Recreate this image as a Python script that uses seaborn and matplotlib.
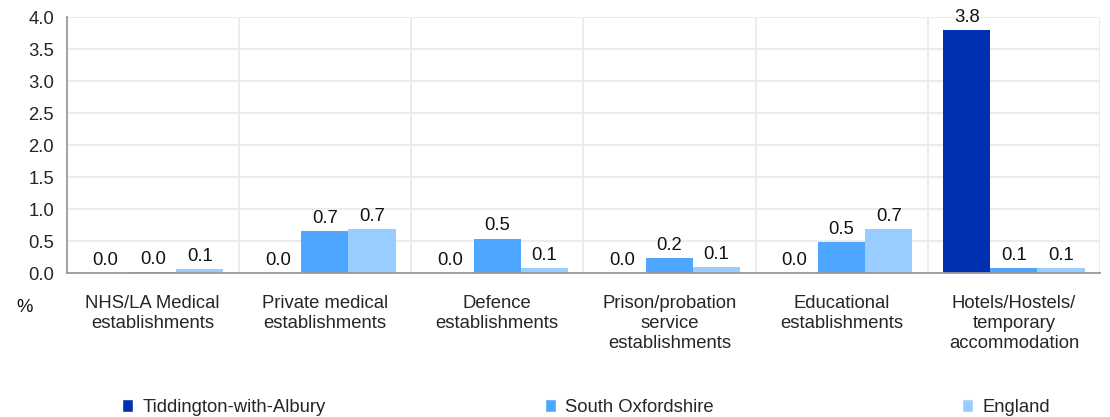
import numpy as np
import pandas as pd
import matplotlib
matplotlib.use("Agg")
import matplotlib.pyplot as plt
import seaborn as sns
from matplotlib.patches import Patch

# data
categories = [
    "NHS/LA Medical\nestablishments",
    "Private medical\nestablishments",
    "Defence\nestablishments",
    "Prison/probation\nservice\nestablishments",
    "Educational\nestablishments",
    "Hotels/Hostels/\ntemporary\naccommodation",
]
series = ["Tiddington-with-Albury", "South Oxfordshire", "England"]
tiddington = [0.0, 0.0, 0.0, 0.0, 0.0, 3.8]
south_oxon = [0.02, 0.66, 0.54, 0.24, 0.49, 0.08]
england = [0.06, 0.69, 0.08, 0.09, 0.69, 0.08]
colors = ["#0030B0", "#4DA6FF", "#99CCFF"]

df = pd.DataFrame({
    "category": categories * 3,
    "area": np.repeat(series, len(categories)),
    "value": tiddington + south_oxon + england,
})

FS = 13.3

sns.set_style("white")
plt.rcParams["font.family"] = ["Liberation Sans", "DejaVu Sans"]

fig = plt.figure(figsize=(11.1, 4.17), dpi=100)
ax = fig.add_axes([0.060, 0.345, 0.931, 0.614])

sns.barplot(data=df, x="category", y="value", hue="area", hue_order=series,
            palette=colors, width=0.82, gap=0, saturation=1, ax=ax,
            legend=False, errorbar=None, linewidth=0)

for cont in ax.containers:
    ax.bar_label(cont, fmt="%.1f", padding=3, fontsize=FS, color="#111111")

ax.set_ylim(0, 4.0)
ax.set_xlim(-0.5, len(categories) - 0.5)
ax.set_yticks(np.arange(0, 4.01, 0.5))
ax.set_yticklabels([f"{v:.1f}" for v in np.arange(0, 4.01, 0.5)], fontsize=FS)
ax.set_xticks(range(len(categories)))
ax.set_xticklabels(categories, fontsize=FS, linespacing=1.22)
ax.set_xticks(np.arange(-0.5, len(categories)), minor=True)
ax.tick_params(axis="x", which="major", length=0, pad=16)
ax.tick_params(axis="x", which="minor", length=5, color="#999999", width=1.2)
ax.tick_params(axis="y", length=5, color="#999999", width=1.2, pad=4)
ax.grid(axis="y", color="#EBEBEB", linewidth=1.3)
ax.grid(axis="x", which="minor", color="#EBEBEB", linewidth=1.3)
ax.set_axisbelow(True)
ax.set_xlabel("")
ax.set_ylabel("")
for s in ["top", "right"]:
    ax.spines[s].set_visible(False)
for s in ["left", "bottom"]:
    ax.spines[s].set_color("#999999")
    ax.spines[s].set_linewidth(1.3)

fig.text(0.015, 0.252, "%", fontsize=FS, color="#111111")

# legend entries spread across the bottom
for name, col, x in zip(series, colors, [0.100, 0.481, 0.857]):
    fig.legend(handles=[Patch(facecolor=col, label=name)], loc="lower left",
               bbox_to_anchor=(x, -0.025), frameon=False, fontsize=FS,
               handlelength=0.6, handleheight=0.7, handletextpad=0.5,
               borderaxespad=0.2)

plt.savefig("out.png", dpi=100)
